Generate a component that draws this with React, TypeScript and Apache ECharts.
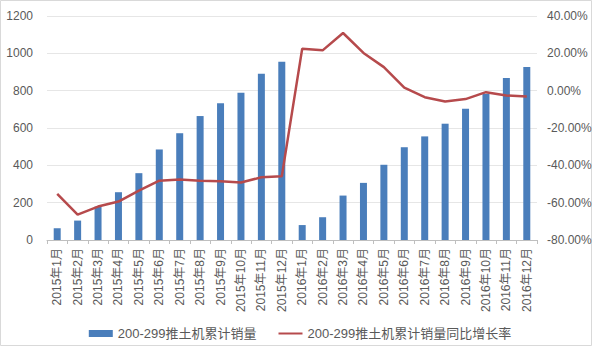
import React, { useEffect, useRef } from "react";
import * as echarts from "echarts";

const categories = [
  "2015年1月", "2015年2月", "2015年3月", "2015年4月", "2015年5月", "2015年6月",
  "2015年7月", "2015年8月", "2015年9月", "2015年10月", "2015年11月", "2015年12月",
  "2016年1月", "2016年2月", "2016年3月", "2016年4月", "2016年5月", "2016年6月",
  "2016年7月", "2016年8月", "2016年9月", "2016年10月", "2016年11月", "2016年12月",
];
const salesValues = [63, 104, 179, 256, 358, 485, 572, 664, 733, 789, 891, 955,
  80, 122, 238, 306, 403, 497, 555, 623, 703, 784, 868, 927];
const growthValues = [-55.3, -66.4, -62.1, -59.4, -53.5, -48.2, -47.6, -48.2, -48.5, -49.2, -46.4, -45.9,
  22.5, 21.6, 30.9, 20.2, 12.6, 1.6, -3.5, -5.8, -4.5, -0.8, -2.6, -3.1];
const barName = "200-299推土机累计销量";
const lineName = "200-299推土机累计销量同比增长率";

export default function App() {
  const ref = useRef<HTMLDivElement>(null);
  useEffect(() => {
    if (!ref.current) return;
    const chart = echarts.init(ref.current, null, { renderer: "svg" });
    const font = "'Liberation Sans', 'Noto Sans CJK SC', sans-serif";
    chart.setOption({
      animation: false,
      textStyle: { fontFamily: font },
      grid: { left: 47, right: 63, top: 16, bottom: 115 },
      legend: {
        bottom: 10,
        left: "center",
        itemGap: 22,
        itemWidth: 24,
        itemHeight: 7,
        textStyle: { color: "#595959", fontSize: 13, fontFamily: font },
        data: [
          { name: barName, icon: "rect" },
          { name: lineName, icon: "path://M0,0 L24,0 L24,2 L0,2 Z" },
        ],
      },
      xAxis: {
        type: "category",
        data: categories,
        axisLine: { lineStyle: { color: "#BFBFBF" } },
        axisTick: { show: true, length: 4, lineStyle: { color: "#BFBFBF" } },
        axisLabel: { rotate: 90, interval: 0, color: "#595959", fontSize: 12, fontFamily: font },
      },
      yAxis: [
        {
          type: "value",
          min: 0,
          max: 1200,
          interval: 200,
          axisLine: { show: false },
          axisTick: { show: false },
          splitLine: { lineStyle: { color: "#E6E6E6" } },
          axisLabel: {
            color: "#595959",
            fontSize: 12,
            margin: 14,
            fontFamily: font,
            formatter: (v: number) => String(v),
          },
        },
        {
          type: "value",
          min: -80,
          max: 40,
          interval: 20,
          axisLine: { show: false },
          axisTick: { show: false },
          splitLine: { show: false },
          axisLabel: {
            color: "#595959",
            fontSize: 12,
            margin: 10,
            fontFamily: font,
            formatter: (v: number) => v.toFixed(2) + "%",
          },
        },
      ],
      series: [
        {
          name: barName,
          type: "bar",
          data: salesValues,
          barWidth: 7,
          itemStyle: { color: "#4A7EBB" },
        },
        {
          name: lineName,
          type: "line",
          yAxisIndex: 1,
          data: growthValues,
          symbol: "none",
          lineStyle: { color: "#B64A4C", width: 2.5 },
          itemStyle: { color: "#B64A4C" },
        },
      ],
      graphic: [
        {
          type: "rect",
          shape: { x: 0.5, y: 0.5, width: 591, height: 345 },
          style: { fill: "none", stroke: "#D9D9D9", lineWidth: 1 },
          silent: true,
        },
      ],
    });
    return () => chart.dispose();
  }, []);
  return <div ref={ref} style={{ width: 600, height: 355, position: "absolute", left: 0, top: 0 }} />;
}
